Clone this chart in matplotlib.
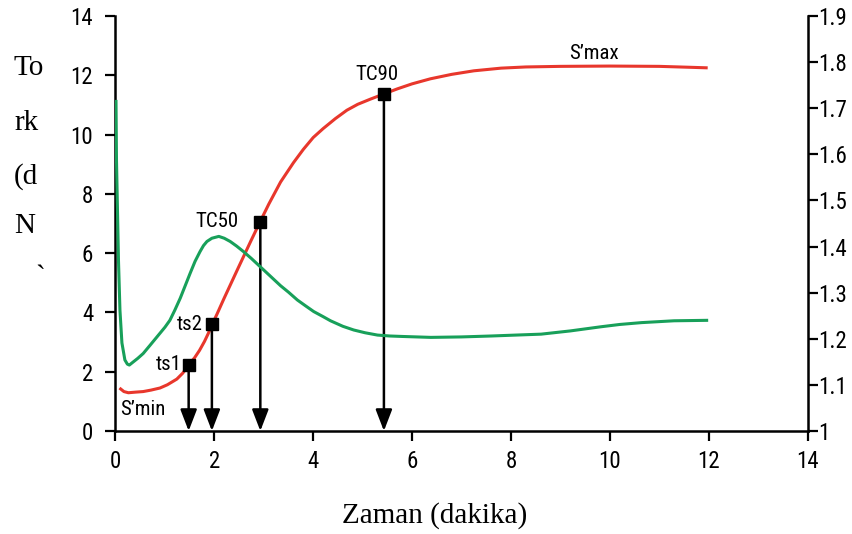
import matplotlib
matplotlib.use("Agg")
import matplotlib.pyplot as plt
from matplotlib import font_manager
from matplotlib.patches import ArrowStyle

# ---- data -------------------------------------------------------------
# Torque curve (left axis, dNm) versus time (min)
time_torque = [0.08, 0.17, 0.26, 0.40, 0.56, 0.72, 0.90, 1.05, 1.24, 1.36,
               1.48, 1.60, 1.70, 1.80, 1.88, 1.95, 2.05, 2.19, 2.46, 2.73,
               2.92, 3.10, 3.34, 3.60, 3.80, 4.00, 4.20, 4.45, 4.68, 4.90,
               5.15, 5.43, 5.70, 6.00, 6.37, 6.80, 7.25, 7.80, 8.30, 9.00,
               10.00, 11.00, 11.60, 11.98]
torque = [1.45, 1.33, 1.29, 1.31, 1.33, 1.38, 1.45, 1.56, 1.75, 1.95,
          2.23, 2.47, 2.72, 3.02, 3.30, 3.58, 3.93, 4.45, 5.42, 6.38,
          7.04, 7.65, 8.40, 9.05, 9.50, 9.90, 10.20, 10.54, 10.82, 11.02,
          11.19, 11.37, 11.54, 11.71, 11.88, 12.03, 12.15, 12.24, 12.28, 12.30,
          12.31, 12.30, 12.27, 12.25]

# Second curve (right axis) versus time (min)
time_right = [0.01, 0.02, 0.04, 0.06, 0.09, 0.13, 0.19, 0.24, 0.28, 0.35,
              0.45, 0.56, 0.70, 0.80, 0.90, 1.00, 1.10, 1.20, 1.31, 1.41,
              1.51, 1.61, 1.71, 1.78, 1.85, 1.95, 2.09, 2.20, 2.32, 2.45,
              2.59, 2.75, 2.92, 3.10, 3.34, 3.50, 3.68, 3.85, 4.01, 4.20,
              4.35, 4.60, 4.82, 5.05, 5.30, 5.55, 5.80, 6.38, 7.00, 7.60,
              8.10, 8.61, 9.20, 9.82, 10.20, 10.64, 11.30, 11.99]
right_vals = [1.718, 1.588, 1.479, 1.371, 1.262, 1.191, 1.154, 1.145, 1.143, 1.149,
              1.1575, 1.168, 1.186, 1.199, 1.212, 1.225, 1.240, 1.262, 1.288, 1.315,
              1.342, 1.368, 1.389, 1.402, 1.411, 1.418, 1.422, 1.418, 1.411, 1.401,
              1.389, 1.374, 1.357, 1.339, 1.315, 1.301, 1.284, 1.271, 1.259, 1.248,
              1.239, 1.227, 1.219, 1.213, 1.208, 1.206, 1.205, 1.203, 1.204, 1.206,
              1.208, 1.210, 1.217, 1.226, 1.231, 1.235, 1.239, 1.240]

# Characteristic cure points
point_names = ["ts1", "ts2", "TC50", "TC90"]
point_time = [1.48, 1.95, 2.93, 5.43]
point_torque = [2.23, 3.61, 7.05, 11.37]

x_ticks = [0, 2, 4, 6, 8, 10, 12, 14]
left_ticks = [0, 2, 4, 6, 8, 10, 12, 14]
right_ticks = [1.0, 1.1, 1.2, 1.3, 1.4, 1.5, 1.6, 1.7, 1.8, 1.9]
right_labels = ["1", "1.1", "1.2", "1.3", "1.4", "1.5", "1.6", "1.7", "1.8", "1.9"]

ylabel_lines = ["To", "rk", "(d", "N"]
xlabel_text = "Zaman (dakika)"

# ---- fonts ------------------------------------------------------------
installed = {f.name for f in font_manager.fontManager.ttflist}
narrow = next((n for n in ["Liberation Sans Narrow", "Roboto Condensed",
                           "Open Sans Condensed"] if n in installed), None)
if narrow:
    cond = dict(family=[narrow, "DejaVu Sans"])
else:
    cond = dict(family=["DejaVu Sans"], stretch="condensed")
serif = dict(family=["Liberation Serif", "DejaVu Serif"])

RED = "#e8372c"
GREEN = "#18a05a"

# ---- figure -----------------------------------------------------------
fig = plt.figure(figsize=(8.53, 5.34), dpi=100)
ax = fig.add_axes([0.1354, 0.1929, 0.8113, 0.7772])
ax2 = ax.twinx()

ax.set_xlim(0, 14)
ax.set_ylim(0, 14)
ax2.set_ylim(1.0, 1.9)

ax.plot(time_torque, torque, color=RED, lw=2.2, zorder=3,
        solid_joinstyle="round", solid_capstyle="butt")
ax2.plot(time_right, right_vals, color=GREEN, lw=2.2, zorder=2,
         solid_joinstyle="round", solid_capstyle="butt")

head = ArrowStyle("-|>", head_length=0.65, head_width=0.25)
for t, y in zip(point_time, point_torque):
    ax.annotate("", xy=(t, 0), xytext=(t, y),
                arrowprops=dict(arrowstyle=head, color="black", lw=1.8,
                                mutation_scale=20, shrinkA=0, shrinkB=0),
                zorder=4)
ax.plot(point_time, point_torque, ls="none", marker="s", ms=8,
        color="black", zorder=5)

# point labels
lab_fs = 15
ax.text(1.33, 2.23, "ts1", ha="right", va="center", fontsize=lab_fs, **cond)
ax.text(1.76, 3.60, "ts2", ha="right", va="center", fontsize=lab_fs, **cond)
ax.text(2.05, 7.07, "TC50", ha="center", va="center", fontsize=lab_fs, **cond)
ax.text(5.28, 12.01, "TC90", ha="center", va="center", fontsize=lab_fs, **cond)
ax.text(9.68, 12.74, "S\u2019max", ha="center", va="center", fontsize=lab_fs, **cond)
ax.text(0.56, 0.71, "S\u2019min", ha="center", va="center", fontsize=lab_fs, **cond)

# spines and ticks
for a in (ax, ax2):
    a.spines["top"].set_visible(False)
    for s in a.spines.values():
        s.set_linewidth(1.8)
ax.spines["right"].set_visible(False)
ax2.spines["left"].set_visible(False)
ax2.spines["bottom"].set_visible(False)

tick_fs = 16.5
ax.set_xticks(x_ticks)
ax.set_xticklabels([str(v) for v in x_ticks], fontsize=tick_fs, **cond)
ax.set_yticks(left_ticks)
ax.set_yticklabels([str(v) for v in left_ticks], fontsize=tick_fs, **cond)
ax2.set_yticks(right_ticks)
ax2.set_yticklabels(right_labels, fontsize=tick_fs, **cond)

ax.tick_params(axis="x", direction="out", length=7, width=1.6, pad=7)
ax.tick_params(axis="y", direction="out", length=7, width=1.6, pad=9)
ax2.tick_params(axis="y", direction="out", length=7, width=1.6, pad=1)

# axis titles
fig.text(435 / 853, 1 - 516 / 534, xlabel_text, ha="center", va="center",
         fontsize=21, **serif)
baselines = [75, 130, 184, 233]
for txt, yb in zip(ylabel_lines, baselines):
    fig.text(14 / 853, 1 - yb / 534, txt, ha="left", va="baseline",
             fontsize=21, **serif)
fig.text(40 / 853, 1 - 278 / 534, "`", ha="center", va="center",
         fontsize=21, **serif)

fig.savefig("out.png", dpi=100)
